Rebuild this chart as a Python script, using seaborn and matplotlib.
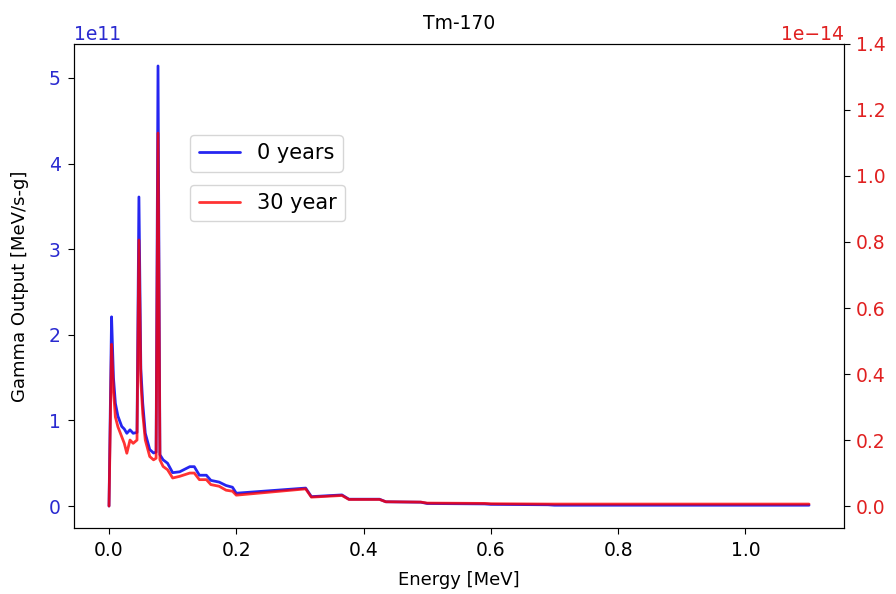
import matplotlib
matplotlib.use("Agg")
import matplotlib.pyplot as plt
import seaborn as sns
import pandas as pd

energy = [0.000, 0.004, 0.007, 0.010, 0.014, 0.020, 0.024, 0.028, 0.033, 0.038,
          0.044, 0.047, 0.050, 0.053, 0.057, 0.064, 0.070, 0.074, 0.077, 0.080,
          0.085, 0.092, 0.100, 0.111, 0.127, 0.134, 0.142, 0.153, 0.160, 0.173,
          0.184, 0.194, 0.200, 0.309, 0.318, 0.366, 0.377, 0.425, 0.435, 0.490,
          0.500, 0.590, 0.600, 0.690, 0.700, 1.100]

gamma_0y = [0.0, 2.21, 1.5, 1.2, 1.05, 0.93, 0.90, 0.85, 0.89, 0.85,
            0.86, 3.61, 1.6, 1.2, 0.85, 0.66, 0.62, 0.63, 5.14, 0.60,
            0.54, 0.50, 0.39, 0.40, 0.46, 0.46, 0.36, 0.36, 0.30, 0.28,
            0.24, 0.22, 0.15, 0.21, 0.11, 0.13, 0.08, 0.08, 0.05, 0.045,
            0.03, 0.025, 0.02, 0.015, 0.01, 0.01]  # x 1e11

gamma_30y = [0.0, 0.49, 0.35, 0.27, 0.24, 0.21, 0.19, 0.16, 0.20, 0.19,
             0.20, 0.806, 0.38, 0.28, 0.20, 0.15, 0.14, 0.145, 1.13, 0.14,
             0.12, 0.11, 0.085, 0.09, 0.10, 0.10, 0.08, 0.08, 0.065, 0.06,
             0.048, 0.045, 0.033, 0.052, 0.027, 0.032, 0.02, 0.02, 0.013, 0.012,
             0.009, 0.008, 0.007, 0.006, 0.006, 0.006]  # x 1e-14

x_ticks = [0.0, 0.2, 0.4, 0.6, 0.8, 1.0]

df = pd.DataFrame({
    "energy": energy,
    "g0": [v * 1e11 for v in gamma_0y],
    "g30": [v * 1e-14 for v in gamma_30y],
})

sns.set_style("ticks")
plt.rcParams['font.family'] = ['DejaVu Sans']
plt.rcParams['text.color'] = 'black'
plt.rcParams['axes.labelcolor'] = 'black'
plt.rcParams['xtick.color'] = 'black'
plt.rcParams['ytick.color'] = 'black'

fig = plt.figure(figsize=(8.96, 5.94), dpi=100)
ax = fig.add_axes([0.0826, 0.111, 0.8594, 0.815])
ax2 = ax.twinx()

sns.lineplot(data=df, x="energy", y="g0", ax=ax, color="#0000ee", alpha=0.85,
             linewidth=2, label="0 years", estimator=None, sort=False)
sns.lineplot(data=df, x="energy", y="g30", ax=ax2, color="red", alpha=0.8,
             linewidth=2, label="30 year", estimator=None, sort=False)

ax2.set_ylim(-0.0667e-14, 1.4e-14)
ax.set_xticks(x_ticks)

blue_txt = "#2a2ad0"
red_txt = "#e02020"
ax.set_xlabel("Energy [MeV]", fontsize=13, labelpad=8)
ax.set_ylabel("Gamma Output [MeV/s-g]", fontsize=13, labelpad=14)
ax2.set_ylabel("")
ax2.set_xlabel("")
ax2.tick_params(axis='x', labelbottom=False, labeltop=False)
ax2.xaxis.set_visible(False)
ax.xaxis.get_offset_text().set_visible(False)
ax2.xaxis.get_offset_text().set_visible(False)
ax.set_title("Tm-170", fontsize=13.5, pad=11)
ax.tick_params(axis='x', labelsize=13.5, length=4.5, pad=5)
ax.tick_params(axis='y', labelsize=13.5, labelcolor=blue_txt, length=4.5, pad=5)
ax2.tick_params(axis='y', labelsize=13.5, labelcolor=red_txt, length=4.5, pad=4)
ax.yaxis.get_offset_text().set_color(blue_txt)
ax.yaxis.get_offset_text().set_fontsize(13.5)
ax2.yaxis.get_offset_text().set_color(red_txt)
ax2.yaxis.get_offset_text().set_fontsize(13.5)

for a in (ax, ax2):
    for s in a.spines.values():
        s.set_visible(True)
        s.set_color("black")

ax.legend(loc="upper left", bbox_to_anchor=(0.151, 0.812), borderaxespad=0, fontsize=15)
ax2.legend(loc="upper left", bbox_to_anchor=(0.151, 0.709), borderaxespad=0, fontsize=15)

fig.savefig("out.png", dpi=100)
